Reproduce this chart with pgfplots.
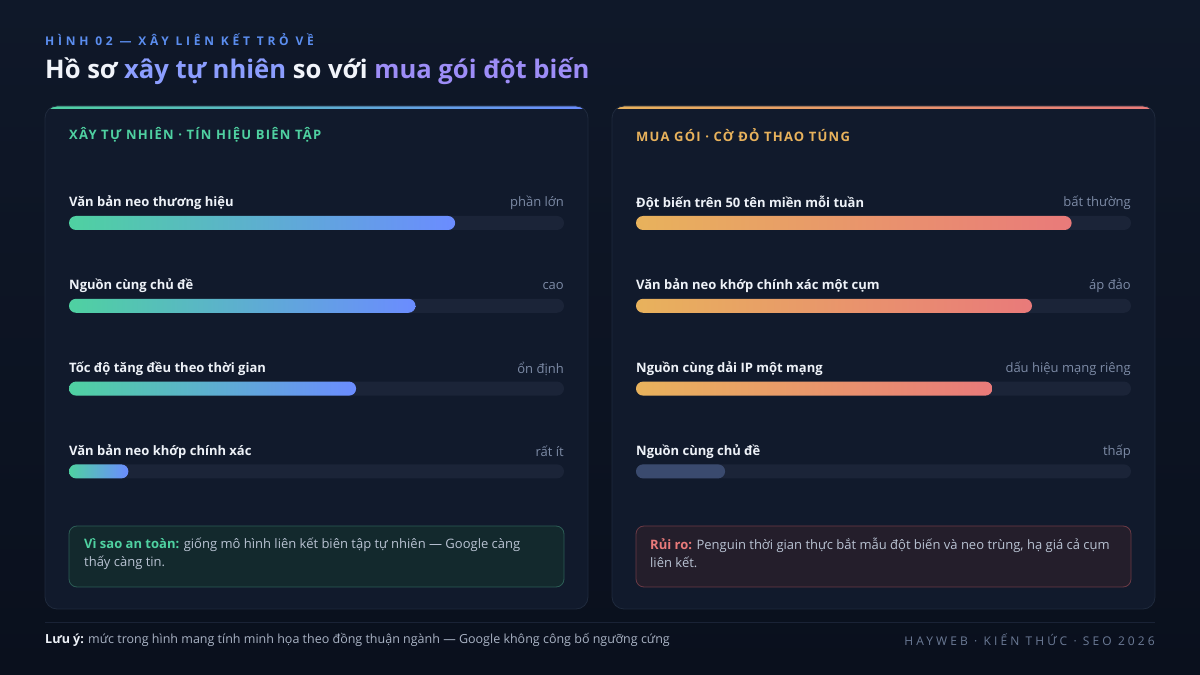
\documentclass[border=0pt]{standalone}
\usepackage{fontspec}
\usepackage{pgfplots}
\pgfplotsset{compat=1.18}
\setmainfont{Open Sans}
\newfontfamily\spaced[LetterSpace=31]{Open Sans}
\newfontfamily\brandfont[LetterSpace=26]{Open Sans}
\newfontfamily\hspaced[LetterSpace=9.5]{Open Sans}

\definecolor{bgtop}{HTML}{0F1829}
\definecolor{bgbot}{HTML}{0A101D}
\definecolor{panel}{HTML}{111A2C}
\definecolor{panelline}{HTML}{1F2A3D}
\definecolor{track}{HTML}{1B2438}
\definecolor{kicker}{HTML}{5B8DEF}
\definecolor{titlewhite}{HTML}{F1F4FA}
\definecolor{accA}{HTML}{8C9EFF}
\definecolor{accB}{HTML}{9D8DF7}
\definecolor{natgreen}{HTML}{4FD1A1}
\definecolor{natblue}{HTML}{6B8CFF}
\definecolor{buyorange}{HTML}{E8B25C}
\definecolor{buypink}{HTML}{E97A7A}
\definecolor{flatbar}{HTML}{3A4A6E}
\definecolor{labeltext}{HTML}{EEF2F8}
\definecolor{sidetext}{HTML}{7D8BA6}
\definecolor{notetext}{HTML}{B9C3D3}
\definecolor{safefill}{HTML}{13292D}
\definecolor{safeline}{HTML}{2C5C55}
\definecolor{riskfill}{HTML}{241E2B}
\definecolor{riskline}{HTML}{6B3A45}
\definecolor{footline}{HTML}{1A2336}
\definecolor{foottext}{HTML}{A9B3C4}
\definecolor{brand}{HTML}{6B7A95}

\pgfplotsset{
    meter/.style={
        at={#1}, anchor=north west,
        scale only axis,
        width=495pt, height=331.2pt,
        xmin=0, xmax=100,
        ymin=-0.5, ymax=3.5,
        y dir=reverse,
        hide axis,
        clip=false,
    },
    % one pill-shaped bar
    pill/.style={
        xbar, bar shift=0pt, bar width=14pt,
        draw=none, rounded corners=7pt,
    },
}
\tikzset{
    rowlabel/.style={anchor=west, yshift=20pt, inner sep=0pt,
        text=labeltext, font=\fontsize{13}{15}\selectfont\bfseries},
    rowside/.style={anchor=east, yshift=20pt, inner sep=0pt,
        text=sidetext, font=\fontsize{13}{15}\selectfont},
}

\begin{document}
\begin{tikzpicture}[x=1pt, y=1pt]
% --- background ---
\shade[top color=bgtop, bottom color=bgbot] (0,0) rectangle (1200,675);

% --- header ---
\node[anchor=west, inner sep=0pt, text=kicker]
    at (45,635) {\spaced\fontsize{12}{14}\selectfont\bfseries HÌNH 02 — XÂY LIÊN KẾT TRỎ VỀ};
\node[anchor=west, inner sep=0pt, text=titlewhite]
    at (45,604) {\fontsize{25.6}{30}\selectfont\bfseries Hồ sơ \textcolor{accA}{xây tự nhiên} so với \textcolor{accB}{mua gói đột biến}};

% --- panels ---
\foreach \px/\ca/\cb in {45/natgreen/natblue, 612/buyorange/buypink}{
    \fill[panel, rounded corners=12pt] (\px,66) rectangle ++(543,503);
    \begin{scope}
        \clip[rounded corners=12pt] (\px,66) rectangle ++(543,503);
        \shade[left color=\ca, right color=\cb] (\px,566) rectangle ++(543,3);
    \end{scope}
    \draw[panelline, line width=0.8pt, rounded corners=12pt] (\px,66) rectangle ++(543,503);
}
\node[anchor=west, inner sep=0pt, text=natgreen]
    at (69,540) {\hspaced\fontsize{13}{15}\selectfont\bfseries XÂY TỰ NHIÊN · TÍN HIỆU BIÊN TẬP};
\node[anchor=west, inner sep=0pt, text=buyorange]
    at (636,540) {\hspaced\fontsize{13}{15}\selectfont\bfseries MUA GÓI · CỜ ĐỎ THAO TÚNG};

% --- left meters: natural profile ---
\begin{axis}[meter={(69pt,493.4pt)}]
    \addplot[pill, fill=track] coordinates {(100,0) (100,1) (100,2) (100,3)};
    \addplot[pill, left color=natgreen, right color=natblue] coordinates {(78,0)};
    \addplot[pill, left color=natgreen, right color=natblue] coordinates {(70,1)};
    \addplot[pill, left color=natgreen, right color=natblue] coordinates {(58,2)};
    \addplot[pill, left color=natgreen, right color=natblue] coordinates {(12,3)};
    \node[rowlabel] at (axis cs:0,0) {Văn bản neo thương hiệu};
    \node[rowlabel] at (axis cs:0,1) {Nguồn cùng chủ đề};
    \node[rowlabel] at (axis cs:0,2) {Tốc độ tăng đều theo thời gian};
    \node[rowlabel] at (axis cs:0,3) {Văn bản neo khớp chính xác};
    \node[rowside] at (axis cs:100,0) {phần lớn};
    \node[rowside] at (axis cs:100,1) {cao};
    \node[rowside] at (axis cs:100,2) {ổn định};
    \node[rowside] at (axis cs:100,3) {rất ít};
\end{axis}

% --- right meters: bought package ---
\begin{axis}[meter={(636pt,493.4pt)}]
    \addplot[pill, fill=track] coordinates {(100,0) (100,1) (100,2) (100,3)};
    \addplot[pill, left color=buyorange, right color=buypink] coordinates {(88,0)};
    \addplot[pill, left color=buyorange, right color=buypink] coordinates {(80,1)};
    \addplot[pill, left color=buyorange, right color=buypink] coordinates {(72,2)};
    \addplot[pill, fill=flatbar] coordinates {(18,3)};
    \node[rowlabel] at (axis cs:0,0) {Đột biến trên 50 tên miền mỗi tuần};
    \node[rowlabel] at (axis cs:0,1) {Văn bản neo khớp chính xác một cụm};
    \node[rowlabel] at (axis cs:0,2) {Nguồn cùng dải IP một mạng};
    \node[rowlabel] at (axis cs:0,3) {Nguồn cùng chủ đề};
    \node[rowside] at (axis cs:100,0) {bất thường};
    \node[rowside] at (axis cs:100,1) {áp đảo};
    \node[rowside] at (axis cs:100,2) {dấu hiệu mạng riêng};
    \node[rowside] at (axis cs:100,3) {thấp};
\end{axis}

% --- note boxes ---
\draw[safeline, fill=safefill, line width=0.8pt, rounded corners=8pt] (69,88) rectangle (564,149);
\node[anchor=north west, inner sep=0pt, align=left, text=notetext,
      font=\fontsize{13}{18}\selectfont] at (84,137)
    {\textcolor{natgreen}{\bfseries Vì sao an toàn:} giống mô hình liên kết biên tập tự nhiên — Google càng\\thấy càng tin.};
\draw[riskline, fill=riskfill, line width=0.8pt, rounded corners=8pt] (636,88) rectangle (1131,149);
\node[anchor=north west, inner sep=0pt, align=left, text=notetext,
      font=\fontsize{13}{18}\selectfont] at (650,137)
    {\textcolor{buypink}{\bfseries Rủi ro:} Penguin thời gian thực bắt mẫu đột biến và neo trùng, hạ giá cả cụm\\liên kết.};

% --- footer ---
\draw[footline, line width=0.8pt] (45,53) -- (1155,53);
\node[anchor=west, inner sep=0pt, text=foottext, font=\fontsize{12.5}{15}\selectfont]
    at (45,35) {\textcolor{labeltext}{\bfseries Lưu ý:} mức trong hình mang tính minh họa theo đồng thuận ngành — Google không công bố ngưỡng cứng};
\node[anchor=east, inner sep=0pt, text=brand]
    at (1155,35) {\brandfont\fontsize{12}{14}\selectfont HAYWEB · KIẾN THỨC · SEO 2026};
\end{tikzpicture}
\end{document}
